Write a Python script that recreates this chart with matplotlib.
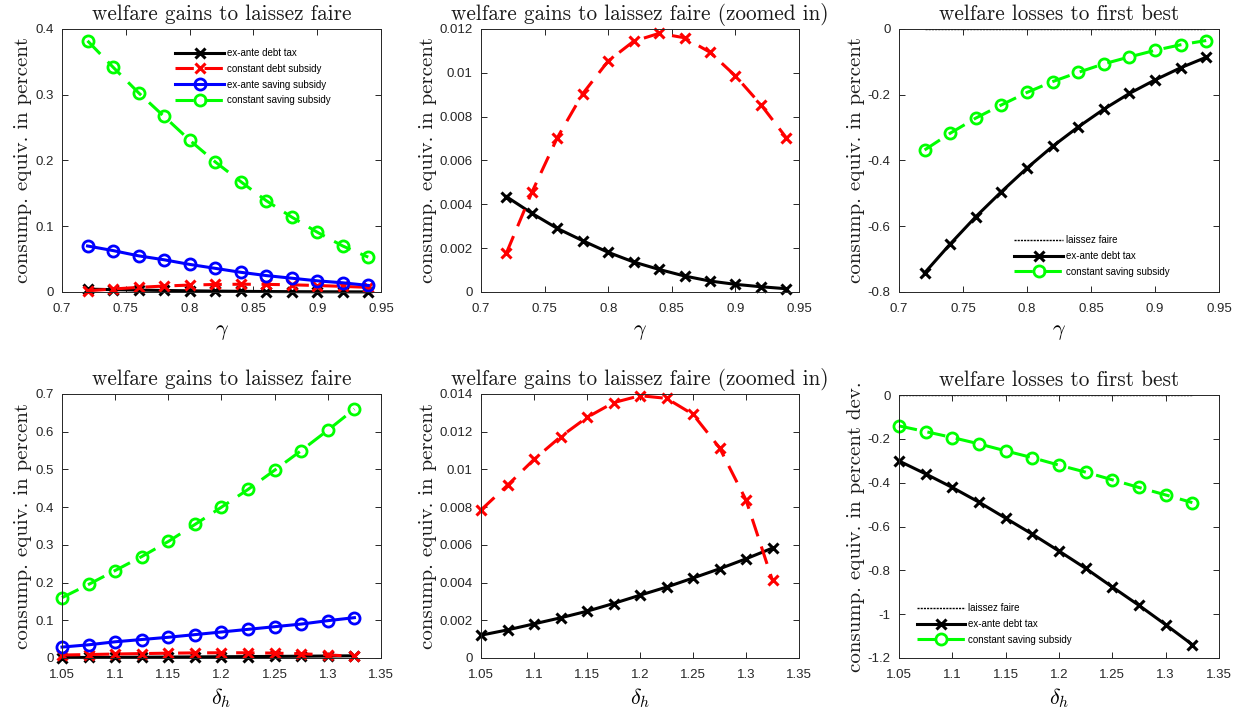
import matplotlib
matplotlib.use('Agg')
import matplotlib.pyplot as plt
from matplotlib.ticker import FuncFormatter, FixedLocator

plt.rcParams['mathtext.fontset'] = 'cm'
plt.rcParams['axes.unicode_minus'] = False
plt.rcParams['font.family'] = ['Liberation Sans', 'DejaVu Sans']

# ---------------- data ----------------
gamma = [0.72, 0.74, 0.76, 0.78, 0.80, 0.82, 0.84, 0.86, 0.88, 0.90, 0.92, 0.94]
delta_h = [1.05, 1.075, 1.10, 1.125, 1.15, 1.175, 1.20, 1.225, 1.25, 1.275, 1.30, 1.325]

# gains vs gamma
g_exante_debt_tax = [0.00435, 0.00359, 0.0029, 0.00234, 0.00181, 0.00137, 0.00103,
                     0.00073, 0.0005, 0.00035, 0.00024, 0.00015]
g_const_debt_sub = [0.00178, 0.00455, 0.00704, 0.00905, 0.01054, 0.01144, 0.0118,
                    0.0116, 0.01094, 0.00986, 0.00855, 0.00704]
g_exante_saving_sub = [0.070, 0.063, 0.055, 0.049, 0.042, 0.036, 0.030, 0.025,
                       0.021, 0.017, 0.014, 0.010]
g_const_saving_sub = [0.382, 0.342, 0.303, 0.267, 0.231, 0.198, 0.168, 0.139,
                      0.114, 0.091, 0.070, 0.053]
# losses vs gamma
gl_laissez = [0.0] * 12
gl_exante_debt_tax = [-0.742, -0.654, -0.571, -0.495, -0.423, -0.357, -0.298,
                      -0.244, -0.196, -0.155, -0.118, -0.086]
gl_const_saving_sub = [-0.368, -0.317, -0.271, -0.231, -0.193, -0.160, -0.132,
                       -0.106, -0.085, -0.065, -0.048, -0.035]

# gains vs delta_h
d_exante_debt_tax = [0.00121, 0.00149, 0.00181, 0.00213, 0.00248, 0.00289, 0.00333,
                     0.00376, 0.00424, 0.00473, 0.00526, 0.00583]
d_const_debt_sub = [0.00785, 0.00916, 0.01053, 0.01173, 0.01276, 0.01354, 0.01391,
                    0.01377, 0.01292, 0.01115, 0.00838, 0.00411]
d_exante_saving_sub = [0.029, 0.035, 0.043, 0.049, 0.055, 0.062, 0.069, 0.076,
                       0.083, 0.090, 0.099, 0.107]
d_const_saving_sub = [0.160, 0.195, 0.232, 0.269, 0.309, 0.354, 0.400, 0.447,
                      0.498, 0.550, 0.604, 0.660]
# losses vs delta_h
dl_laissez = [0.0] * 12
dl_exante_debt_tax = [-0.301, -0.360, -0.422, -0.489, -0.562, -0.635, -0.712,
                      -0.791, -0.876, -0.960, -1.048, -1.139]
dl_const_saving_sub = [-0.141, -0.167, -0.194, -0.223, -0.255, -0.286, -0.320,
                       -0.352, -0.387, -0.422, -0.456, -0.491]

lab_edt = 'ex-ante debt tax'
lab_cds = 'constant debt subsidy'
lab_ess = 'ex-ante saving subsidy'
lab_css = 'constant saving subsidy'
lab_lf = 'laissez faire'

t_gain = 'welfare gains to laissez faire'
t_zoom = 'welfare gains to laissez faire (zoomed in)'
t_loss = 'welfare losses to first best'

# ---------------- styles ----------------
LW = 2.2
DASH = (0, (6, 3.5))
st_edt = dict(color='black', ls='-', lw=LW, marker='x', ms=7.5, mew=2.2)
st_cds = dict(color='#FF0000', ls=DASH, lw=LW, marker='x', ms=7.5, mew=2.2)
st_ess = dict(color='#0000FF', ls='-', lw=LW, marker='o', ms=8, mew=2.0, mfc='none')
st_css = dict(color='#00FF00', ls=DASH, lw=LW, marker='o', ms=8, mew=2.0, mfc='none')
st_lf = dict(color='black', ls=(0, (1.5, 0.8)), lw=1.0, zorder=0.5)

fig = plt.figure(figsize=(12.41, 7.11), dpi=100)

W = 1241.0
H = 711.0
def pos(l, r, t, b):
    return [l / W, 1 - b / H, (r - l) / W, (b - t) / H]

axs = [
    fig.add_axes(pos(62, 381, 29, 292)),
    fig.add_axes(pos(481, 799, 29, 292)),
    fig.add_axes(pos(899, 1219, 29, 292)),
    fig.add_axes(pos(62, 381, 394, 658)),
    fig.add_axes(pos(481, 799, 394, 658)),
    fig.add_axes(pos(899, 1219, 395, 658)),
]

fmt = FuncFormatter(lambda v, p: '%g' % round(v, 6))

def style(ax, title, xlabel, ylabel, xlim, xt, ylim, yt):
    ax.set_xlim(xlim)
    ax.set_ylim(ylim)
    ax.xaxis.set_major_locator(FixedLocator(xt))
    ax.yaxis.set_major_locator(FixedLocator(yt))
    ax.xaxis.set_major_formatter(fmt)
    ax.yaxis.set_major_formatter(fmt)
    ax.tick_params(direction='in', top=True, right=True, length=4, width=0.7,
                   labelsize=9.5, colors='#262626')
    ax.tick_params(axis='x', pad=8)
    ax.tick_params(axis='y', pad=6)
    for s in ax.spines.values():
        s.set_color('#262626')
        s.set_linewidth(0.7)
    ax.set_title(title, fontfamily='cmr10', fontsize=15.3, pad=6.5, color='#1a1a1a')
    ax.set_xlabel(xlabel, fontsize=16, labelpad=4)
    ax.set_ylabel(ylabel, fontfamily='cmr10', fontsize=15, labelpad=2, color='#1a1a1a')

gx = [0.7, 0.75, 0.8, 0.85, 0.9, 0.95]
dx = [1.05, 1.1, 1.15, 1.2, 1.25, 1.3, 1.35]
ylab = 'consump. equiv. in percent'
leg_kw = dict(frameon=False, fontsize=7, handlelength=5, handletextpad=0.3,
              labelspacing=0.6, borderaxespad=0, borderpad=0)

# top-left
ax = axs[0]
ax.plot(gamma, g_exante_debt_tax, label=lab_edt, **st_edt)
ax.plot(gamma, g_const_debt_sub, label=lab_cds, **st_cds)
ax.plot(gamma, g_exante_saving_sub, label=lab_ess, **st_ess)
ax.plot(gamma, g_const_saving_sub, label=lab_css, **st_css)
style(ax, t_gain, r'$\gamma$', ylab, (0.7, 0.95), gx, (0, 0.4), [0, 0.1, 0.2, 0.3, 0.4])
ax.legend(loc='upper left', bbox_to_anchor=(0.355, 0.928), **leg_kw)

# top-middle
ax = axs[1]
ax.plot(gamma, g_exante_debt_tax, **st_edt)
ax.plot(gamma, g_const_debt_sub, **st_cds)
style(ax, t_zoom, r'$\gamma$', ylab, (0.7, 0.95), gx, (0, 0.012),
      [0, 0.002, 0.004, 0.006, 0.008, 0.01, 0.012])

# top-right
ax = axs[2]
ax.plot(gamma, gl_laissez, label=lab_lf, **st_lf)
ax.plot(gamma, gl_exante_debt_tax, label=lab_edt, **st_edt)
ax.plot(gamma, gl_const_saving_sub, label=lab_css, **st_css)
style(ax, t_loss, r'$\gamma$', ylab, (0.7, 0.95), gx, (-0.8, 0),
      [-0.8, -0.6, -0.4, -0.2, 0])
ax.legend(loc='lower left', bbox_to_anchor=(0.36, 0.058), **leg_kw)

# bottom-left
ax = axs[3]
ax.plot(delta_h, d_exante_debt_tax, **st_edt)
ax.plot(delta_h, d_const_debt_sub, **st_cds)
ax.plot(delta_h, d_exante_saving_sub, **st_ess)
ax.plot(delta_h, d_const_saving_sub, **st_css)
style(ax, t_gain, r'$\delta_h$', ylab, (1.05, 1.35), dx, (0, 0.7),
      [0, 0.1, 0.2, 0.3, 0.4, 0.5, 0.6, 0.7])

# bottom-middle
ax = axs[4]
ax.plot(delta_h, d_exante_debt_tax, **st_edt)
ax.plot(delta_h, d_const_debt_sub, **st_cds)
style(ax, t_zoom, r'$\delta_h$', ylab, (1.05, 1.35), dx, (0, 0.014),
      [0, 0.002, 0.004, 0.006, 0.008, 0.01, 0.012, 0.014])

# bottom-right
ax = axs[5]
ax.plot(delta_h, dl_laissez, label=lab_lf, **st_lf)
ax.plot(delta_h, dl_exante_debt_tax, label=lab_edt, **st_edt)
ax.plot(delta_h, dl_const_saving_sub, label=lab_css, **st_css)
style(ax, t_loss, r'$\delta_h$', 'consump. equiv. in percent dev.', (1.05, 1.35), dx,
      (-1.2, 0), [-1.2, -1, -0.8, -0.6, -0.4, -0.2, 0])
ax.legend(loc='lower left', bbox_to_anchor=(0.055, 0.05), **leg_kw)

for a in axs:
    for ln in a.get_lines():
        if ln.get_zorder() >= 1:
            ln.set_clip_on(False)

fig.savefig('out.png', dpi=100)
